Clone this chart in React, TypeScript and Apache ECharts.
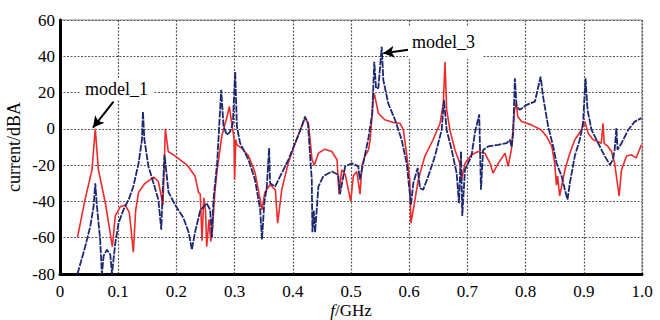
import React, { useEffect, useRef } from "react";
import * as echarts from "echarts";

const xTicks = ["0", "0.1", "0.2", "0.3", "0.4", "0.5", "0.6", "0.7", "0.8", "0.9", "1.0"];

const redX = [
  0.030, 0.043, 0.055, 0.0606, 0.066, 0.078, 0.090, 0.095, 0.1035, 0.112, 0.119, 0.122, 0.126, 0.130,
  0.135, 0.146, 0.161, 0.169, 0.174, 0.177, 0.181, 0.186, 0.198, 0.218, 0.232, 0.238, 0.241, 0.244,
  0.247, 0.250, 0.252, 0.256, 0.259, 0.262, 0.266, 0.270, 0.278, 0.287, 0.291, 0.295, 0.299, 0.300,
  0.302, 0.304, 0.312, 0.324, 0.335, 0.344, 0.347, 0.352, 0.361, 0.370, 0.374, 0.381, 0.392, 0.404,
  0.415, 0.421, 0.427, 0.433, 0.437, 0.444, 0.455, 0.467, 0.476, 0.4795, 0.484, 0.490, 0.4995, 0.504,
  0.510, 0.5155, 0.519, 0.524, 0.530, 0.533, 0.538, 0.540, 0.547, 0.558, 0.573, 0.584, 0.590, 0.596,
  0.601, 0.603, 0.607, 0.6156, 0.627, 0.641, 0.653, 0.6586, 0.6615, 0.6644, 0.670, 0.6786, 0.687,
  0.690, 0.696, 0.707, 0.7186, 0.730, 0.739, 0.744, 0.753, 0.7646, 0.770, 0.7755, 0.781, 0.784,
  0.7865, 0.793, 0.810, 0.827, 0.836, 0.845, 0.850, 0.853, 0.855, 0.8585, 0.8675, 0.876, 0.8845,
  0.896, 0.9018, 0.9075, 0.916, 0.9245, 0.930, 0.933, 0.935, 0.9415, 0.9476, 0.953, 0.9607, 0.9648,
  0.9734, 0.982, 0.990, 0.999,
];
const redY = [
  -60, -39, -22.6, 0, -22.6, -41, -65, -48, -43, -42, -46, -55, -68, -45,
  -35, -30, -26.6, -29, -37, -42, 0, -12.5, -15, -19.8, -26, -35, -36, -61.6,
  -38, -45, -65, -50, -62, -55, -35, -22.6, -4, 6.8, 12.3, 3, -5, -28,
  -6, -8.8, -10.6, -15, -24, -39, -44.6, -35, -30.8, -33.6, -52, -33.6, -19, -7.9,
  1.3, 5.9, 3, -17, -20, -13.4, -11.2, -12.5, -17, -36, -22.6, -25, -40, -26,
  -23.5, -36, -20, -15, -11.6, -6, 16, 19.6, 8.6, 5, 3.5, 3.1, -0.5, -15,
  -28, -52, -44.6, -28, -15, -6, 3.1, 14, 37, 10.5, -0.6, -11.6, -19,
  -28, -19, -14.3, -12.5, -13.4, -19, -24.4, -19, -13.4, -20.7, -11.6, 10.5, 14,
  6.8, 4, 2.2, -0.6, -4.2, -9.7, -19, -31, -26, -37, -22.6, -13.4, -6,
  -0.6, 4, -2.4, -6, -7, -8, 3.1, -8, -9.7, -12.5, -19, -37, -22.6,
  -15, -14.3, -16, -8.8,
];

const blueX = [
  0.030, 0.0434, 0.052, 0.0577, 0.0606, 0.0635, 0.069, 0.072, 0.075, 0.0807, 0.0864, 0.0893, 0.095,
  0.1006, 0.109, 0.118, 0.126, 0.135, 0.1408, 0.1425, 0.145, 0.152, 0.1607, 0.169, 0.174, 0.176,
  0.1796, 0.1865, 0.198, 0.212, 0.221, 0.2266, 0.232, 0.241, 0.252, 0.258, 0.261, 0.2637, 0.270,
  0.2735, 0.277, 0.281, 0.2867, 0.2924, 0.297, 0.301, 0.304, 0.3095, 0.3238, 0.335, 0.344, 0.347,
  0.351, 0.3554, 0.3593, 0.361, 0.3696, 0.381, 0.3925, 0.404, 0.4155, 0.421, 0.426, 0.4326, 0.4337,
  0.436, 0.4383, 0.444, 0.4526, 0.467, 0.478, 0.481, 0.490, 0.5013, 0.5126, 0.515, 0.521, 0.527,
  0.530, 0.5366, 0.540, 0.543, 0.547, 0.5528, 0.5555, 0.564, 0.5756, 0.587, 0.5957, 0.6031, 0.607,
  0.6146, 0.6185, 0.624, 0.6328, 0.6443, 0.6558, 0.6597, 0.6644, 0.673, 0.6815, 0.6855, 0.689,
  0.6912, 0.6958, 0.707, 0.713, 0.7203, 0.7233, 0.727, 0.7358, 0.753, 0.7674, 0.773, 0.776, 0.7787,
  0.7816, 0.7845, 0.790, 0.8017, 0.816, 0.8258, 0.830, 0.8388, 0.8474, 0.8532, 0.8618, 0.8675,
  0.872, 0.876, 0.8845, 0.893, 0.8987, 0.903, 0.9064, 0.9133, 0.9247, 0.936, 0.9448, 0.950, 0.953,
  0.956, 0.958, 0.9648, 0.9762, 0.9876, 0.999,
];
const blueY = [
  -80, -64.8, -53.8, -42.8, -30, -42.8, -61, -80, -70, -66.6, -69.3, -80, -63,
  -52, -44.6, -39, -31.8, -19, -6, 9.5, -6, -20.7, -30, -39, -55.6, -37,
  -14.3, -35, -42, -49, -57, -66.6, -57, -45, -41, -44.6, -60, -39, -19,
  1.3, 21.5, 1.3, -3.3, -1.5, 3.1, 31.5, 1.3, -7.9, -17, -28, -44.6, -61,
  -41, -31.8, -10.6, -30, -31.8, -24.4, -17, -7.9, 1.3, 6.8, 3, -28, -57,
  -45, -57, -31.8, -26, -23.5, -25.3, -36, -20.7, -19, -20.7, -28, -19, -9.7,
  -5, 8.6, 37, 22.4, 22.4, 45.3, 27, 14, 5, -6, -19, -41.8, -30,
  -21.6, -32.6, -33.6, -26, -15, -0.6, 16, -0.6, -11.6, -24.4, -41, -12.5,
  -48, -22.6, -15, -2, 8, -33.6, -11.6, -9.7, -8.8, -7.9, -6, -10, -2.4,
  27.9, 12.3, 10.5, 13.2, 15, 28.8, 17.8, 1.3, -9.7, -19, -26, -33.6,
  -39, -30, -15, -6, 3.1, 27.9, 10.5, -0.6, -7.9, -15, -19.8, -17, -11.6,
  0.4, -11.6, -7.9, -0.6, 4, 5.9,
];

const arrow1 = [[0.092, 15], [0.0567, 0.7]];
const arrow3 = [[0.605, 43.9], [0.5555, 41.7]];

const FONT = "'Liberation Serif', 'Times New Roman', serif";

export default function App() {
  const ref = useRef<HTMLDivElement>(null);
  useEffect(() => {
    if (!ref.current) return;
    const chart = echarts.init(ref.current, undefined, { renderer: "svg" });
    const red = redX.map((x, i) => [x, redY[i]]);
    const blue = blueX.map((x, i) => [x, blueY[i]]);
    chart.setOption({
      animation: false,
      backgroundColor: "#fff",
      textStyle: { fontFamily: FONT },
      grid: {
        show: true,
        left: 60,
        right: 18,
        top: 20,
        bottom: 46,
        containLabel: false,
        outerBoundsMode: "none",
        borderColor: "#8a8a8a",
        borderWidth: 1,
      },
      xAxis: {
        type: "value",
        min: 0,
        max: 1,
        interval: 0.1,
        name: "{i|f}{n|/GHz}",
        nameLocation: "middle",
        nameGap: 28,
        nameMoveOverlap: false,
        nameTextStyle: {
          fontFamily: FONT,
          fontSize: 17,
          lineHeight: 17,
          color: "#000",
          rich: {
            i: { fontFamily: FONT, fontSize: 17, lineHeight: 17, fontStyle: "italic", color: "#000" },
            n: { fontFamily: FONT, fontSize: 17, lineHeight: 17, color: "#000" },
          },
        },
        axisLine: { show: true, onZero: false, lineStyle: { color: "#000", width: 3 } },
        axisTick: { show: false },
        axisLabel: {
          color: "#000",
          fontFamily: FONT,
          fontSize: 17,
          margin: 9,
          formatter: (v: number) => xTicks[Math.round(v * 10)] ?? "",
        },
        splitLine: { show: true, lineStyle: { color: "#5a5a5a", width: 1.2, type: [2, 1.5] } },
      },
      yAxis: {
        type: "value",
        min: -80,
        max: 60,
        interval: 20,
        name: "current/dBA",
        nameLocation: "middle",
        nameGap: 37,
        nameMoveOverlap: false,
        nameTextStyle: { fontFamily: FONT, fontSize: 18, color: "#000" },
        axisLine: { show: true, onZero: false, lineStyle: { color: "#000", width: 3 } },
        axisTick: { show: false },
        axisLabel: { color: "#000", fontFamily: FONT, fontSize: 17, margin: 5 },
        splitLine: { show: true, lineStyle: { color: "#5a5a5a", width: 1.2, type: [2, 1.5] } },
      },
      series: [
        {
          name: "model_1",
          type: "line",
          data: red,
          showSymbol: false,
          symbol: "none",
          lineStyle: { color: "#ee2a2a", width: 1.6 },
          z: 2,
        },
        {
          name: "model_3",
          type: "line",
          data: blue,
          showSymbol: false,
          symbol: "none",
          lineStyle: { color: "#1e2870", width: 1.8, type: [7, 1.2] },
          z: 3,
          markLine: {
            silent: true,
            symbol: ["none", "arrow"],
            symbolSize: [9, 11],
            label: { show: false },
            lineStyle: { color: "#000", width: 2, type: "solid" },
            data: [
              [{ coord: arrow1[0] }, { coord: arrow1[1] }],
              [{ coord: arrow3[0] }, { coord: arrow3[1] }],
            ],
          },
        },
      ],
      graphic: [
        {
          type: "text",
          left: 80,
          top: 78,
          z: 10,
          style: {
            text: "model_1",
            fontFamily: FONT,
            fontSize: 18,
            fill: "#000",
            backgroundColor: "#fff",
            padding: [2, 5],
          },
        },
        {
          type: "text",
          left: 408,
          top: 27,
          z: 10,
          style: {
            text: "model_3",
            fontFamily: FONT,
            fontSize: 18,
            fill: "#000",
            backgroundColor: "#fff",
            padding: [6, 8, 8, 4],
          },
        },
      ],
    });
    return () => chart.dispose();
  }, []);
  return (
    <div
      ref={ref}
      style={{ position: "fixed", left: 0, top: 0, width: 660, height: 320 }}
    />
  );
}
